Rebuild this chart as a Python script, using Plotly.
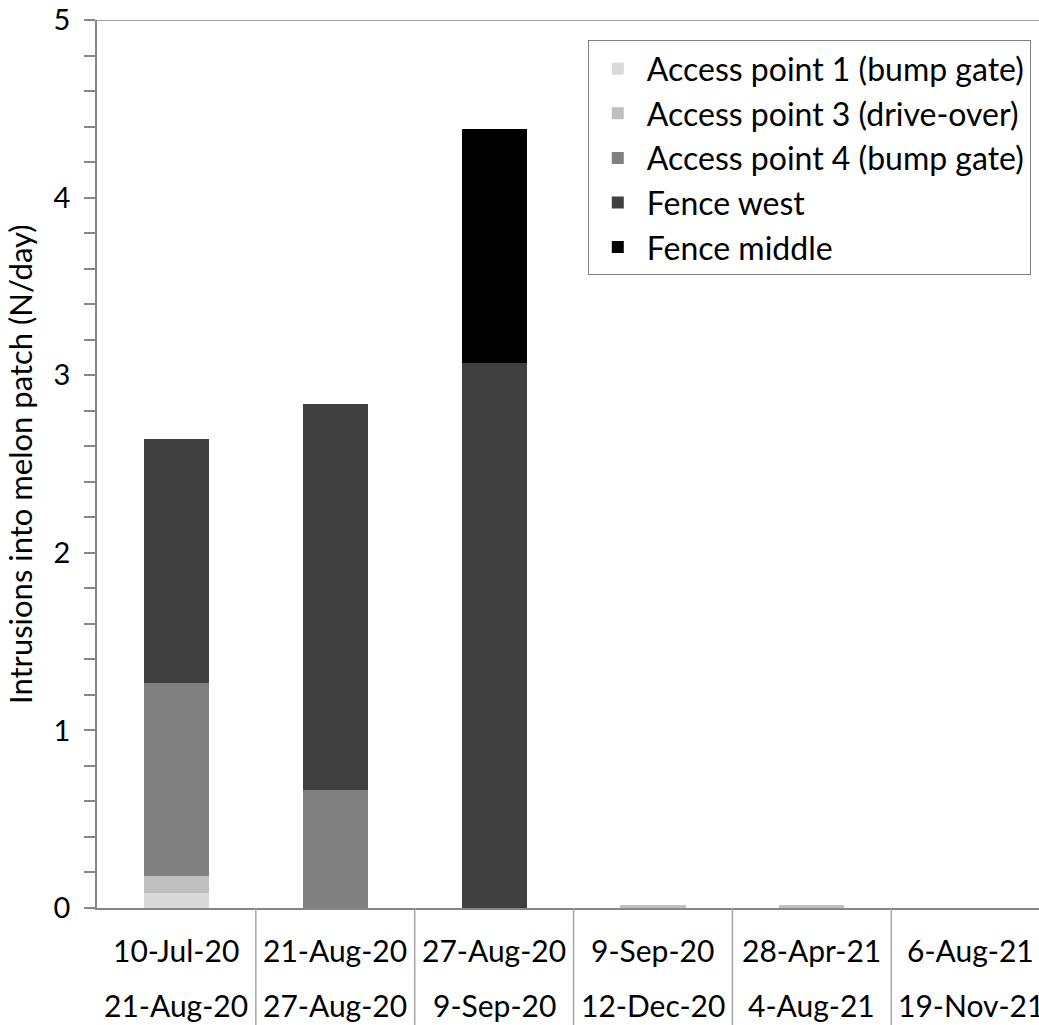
import plotly.graph_objects as go

periods_start = ["10-Jul-20", "21-Aug-20", "27-Aug-20", "9-Sep-20", "28-Apr-21", "6-Aug-21"]
periods_end = ["21-Aug-20", "27-Aug-20", "9-Sep-20", "12-Dec-20", "4-Aug-21", "19-Nov-21"]
categories = [f"{a}|{b}" for a, b in zip(periods_start, periods_end)]

access1 = [0.084, 0, 0, 0, 0, 0]
access3 = [0.096, 0, 0, 0.015, 0.015, 0]
access4 = [1.085, 0.662, 0, 0, 0, 0]
fence_west = [1.374, 2.174, 3.067, 0, 0, 0]
fence_middle = [0, 0, 1.319, 0, 0, 0]

series = [
    ("Access point 1 (bump gate)", access1, "#d9d9d9"),
    ("Access point 3 (drive-over)", access3, "#bfbfbf"),
    ("Access point 4 (bump gate)", access4, "#808080"),
    ("Fence west", fence_west, "#404040"),
    ("Fence middle", fence_middle, "#000000"),
]

FONT = "Lato"
fig = go.Figure()
for i, (name, vals, col) in enumerate(series):
    fig.add_trace(go.Bar(
        x=categories, y=vals, name=name, marker_color=col,
        marker_line_width=0, width=0.41,
    ))

axis_col = "#868686"
fig.update_layout(
    width=1039, height=1025,
    margin=dict(l=97, r=0, t=20, b=117),
    barmode="stack",
    plot_bgcolor="white", paper_bgcolor="white",
    font=dict(family=FONT, size=30, color="#000000"),
    showlegend=True,
    legend=dict(
        x=0.521, y=0.977, xanchor="left", yanchor="top",
        bordercolor="#808080", borderwidth=1, bgcolor="white",
        font=dict(family=FONT, size=32), traceorder="normal",
        itemwidth=48,
    ),
    xaxis=dict(
        type="category", range=[-0.5, 5.43], showticklabels=False,
        showline=True, linecolor=axis_col, linewidth=1.5, ticks="",
        showgrid=False, zeroline=False,
    ),
    yaxis=dict(
        range=[0, 5], dtick=1, tick0=0, ticks="outside", ticklen=11,
        tickcolor=axis_col, tickwidth=1.5, showline=True, linecolor=axis_col,
        linewidth=1.5, showgrid=False, zeroline=False,
        tickfont=dict(family=FONT, size=29),
        ticklabelstandoff=8,
        minor=dict(dtick=0.2, ticks="outside", ticklen=11, tickcolor=axis_col, tickwidth=1.5),
    ),
)

# y-axis title
fig.add_annotation(x=-0.0817, y=0.5, xref="paper", yref="paper",
                   text="Intrusions into melon patch (N/day)", textangle=-90,
                   showarrow=False, xanchor="center", yanchor="middle",
                   font=dict(family=FONT, size=31))

# top border line at y=5
fig.add_shape(type="line", xref="paper", yref="y", x0=0, x1=1, y0=5, y1=5,
              line=dict(color=axis_col, width=1.5))
# category separators below the axis
for k in range(len(categories) - 1):
    fig.add_shape(type="line", xref="x", yref="paper", x0=k + 0.5, x1=k + 0.5,
                  y0=0, y1=-0.135, line=dict(color="#a6a6a6", width=1.5))

for c, a, b in zip(categories, periods_start, periods_end):
    fig.add_annotation(x=c, y=-0.0473, xref="x", yref="paper", text=a, showarrow=False,
                       yanchor="middle", font=dict(family=FONT, size=30))
    fig.add_annotation(x=c, y=-0.109, xref="x", yref="paper", text=b, showarrow=False,
                       yanchor="middle", font=dict(family=FONT, size=30))

fig.write_html("out.html", config={"displayModeBar": False},
               post_script="document.body.style.margin='0';")
